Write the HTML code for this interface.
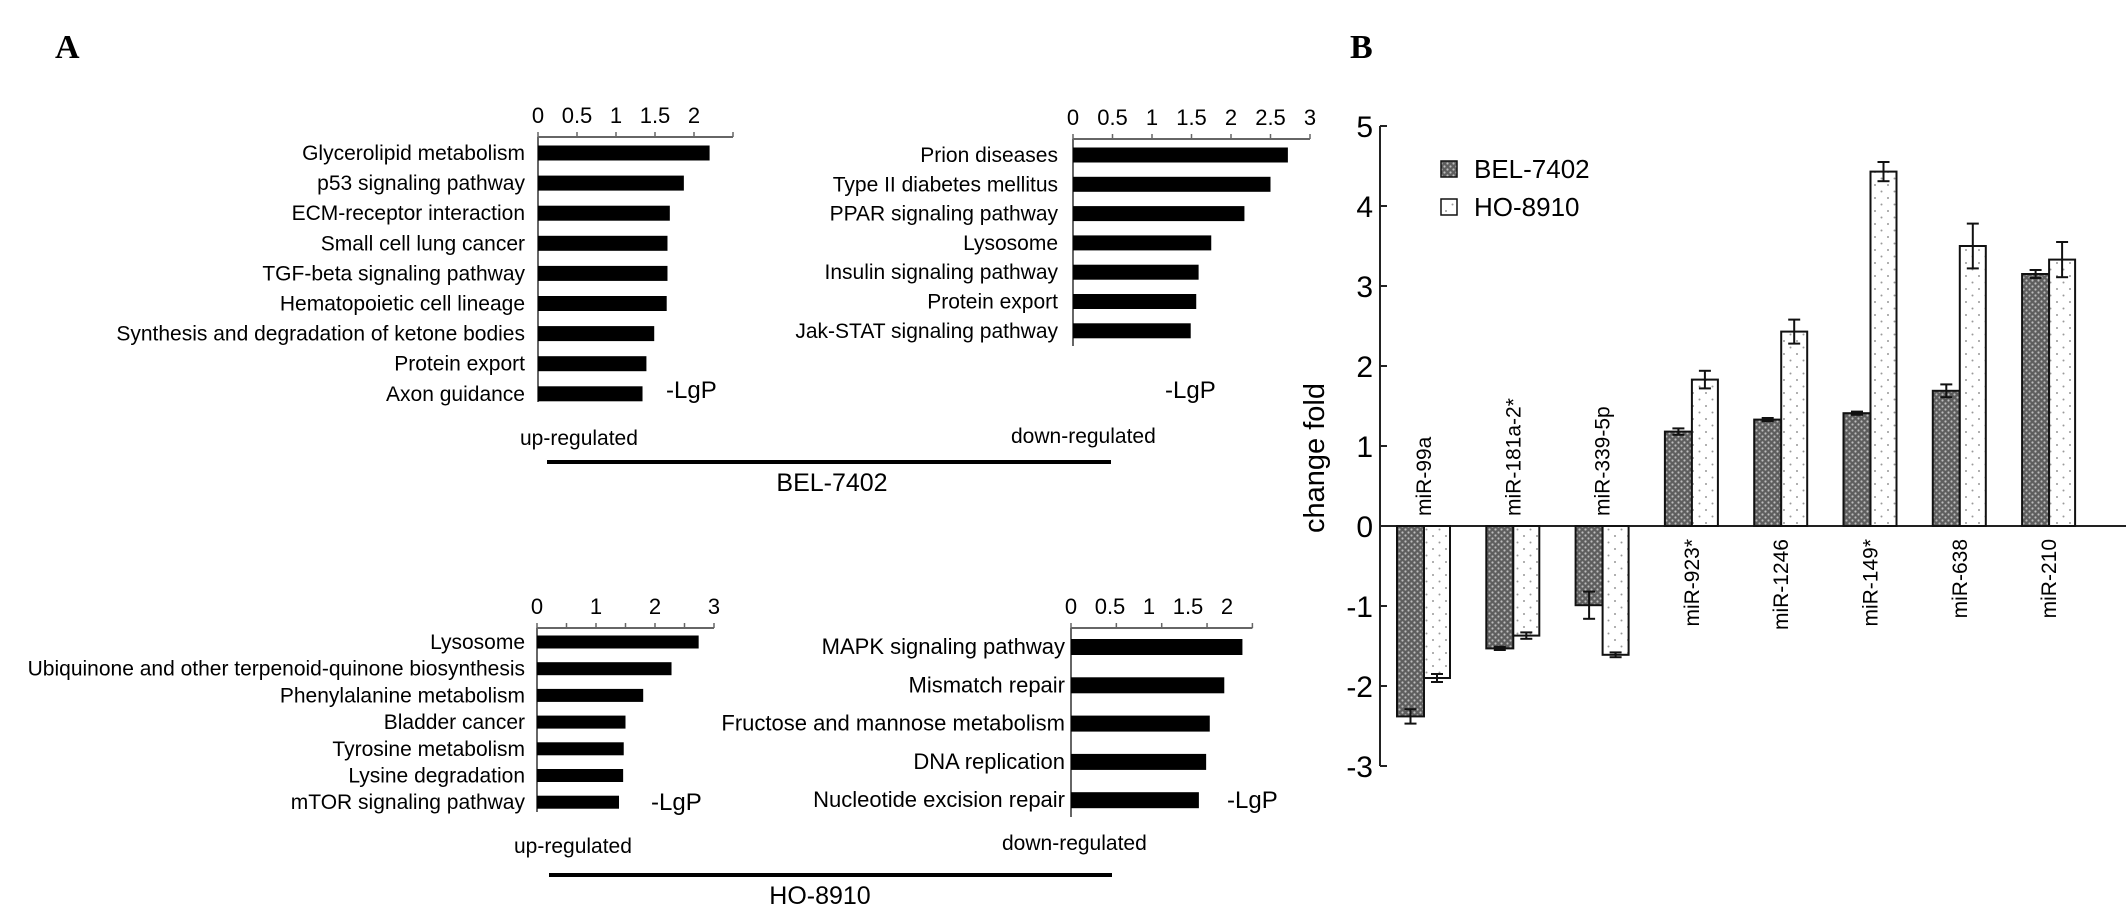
<!DOCTYPE html>
<html><head><meta charset="utf-8"><style>
html,body{margin:0;padding:0;background:#fff;}
svg{display:block;font-family:"Liberation Sans",Arial,sans-serif;}
</style></head><body>
<svg id="fig" width="2126" height="919" viewBox="0 0 2126 919" xmlns="http://www.w3.org/2000/svg">
<defs>
<pattern id="pBel" width="6" height="6" patternUnits="userSpaceOnUse">
<rect width="6" height="6" fill="#5e5e5e"/>
<circle cx="1.5" cy="1.5" r="1.1" fill="#bdbdbd"/>
<circle cx="4.5" cy="4.5" r="1.1" fill="#bdbdbd"/>
</pattern>
<pattern id="pHo" width="13" height="13" patternUnits="userSpaceOnUse">
<rect width="13" height="13" fill="#fff"/>
<circle cx="3" cy="3" r="1" fill="#999"/>
<circle cx="9.5" cy="9.5" r="1" fill="#999"/>
</pattern>
</defs>
<text x="55" y="58" font-family="Liberation Serif,serif" font-weight="bold" font-size="34">A</text>
<text x="1350" y="58" font-family="Liberation Serif,serif" font-weight="bold" font-size="34">B</text>
</svg>
<script>
// ---- Panel A data ----
const tlCategories = ["Glycerolipid metabolism","p53 signaling pathway","ECM-receptor interaction","Small cell lung cancer","TGF-beta signaling pathway","Hematopoietic cell lineage","Synthesis and degradation of ketone bodies","Protein export","Axon guidance"];
const tlValues = [2.2,1.87,1.69,1.66,1.66,1.65,1.49,1.39,1.34];
const tlTicks = ["0","0.5","1","1.5","2"];
const trCategories = ["Prion diseases","Type II diabetes mellitus","PPAR signaling pathway","Lysosome","Insulin signaling pathway","Protein export","Jak-STAT signaling pathway"];
const trValues = [2.72,2.5,2.17,1.75,1.59,1.56,1.49];
const trTicks = ["0","0.5","1","1.5","2","2.5","3"];
const blCategories = ["Lysosome","Ubiquinone and other terpenoid-quinone biosynthesis","Phenylalanine metabolism","Bladder cancer","Tyrosine metabolism","Lysine degradation","mTOR signaling pathway"];
const blValues = [2.74,2.28,1.8,1.5,1.47,1.46,1.39];
const blTicks = ["0","1","2","3"];
const brCategories = ["MAPK signaling pathway","Mismatch repair","Fructose and mannose metabolism","DNA replication","Nucleotide excision repair"];
const brValues = [1.89,1.69,1.53,1.49,1.41];
const brTicks = ["0","0.5","1","1.5","2"];
// ---- Panel B data ----
const mirCategories = ["miR-99a","miR-181a-2*","miR-339-5p","miR-923*","miR-1246","miR-149*","miR-638","miR-210"];
const belValues = [-2.38,-1.53,-0.99,1.18,1.33,1.41,1.69,3.15];
const belErrors = [0.09,0.02,0.17,0.04,0.02,0.02,0.08,0.05];
const hoValues = [-1.9,-1.37,-1.61,1.83,2.43,4.43,3.5,3.33];
const hoErrors = [0.05,0.04,0.03,0.11,0.15,0.12,0.28,0.22];
const yTicks = [5,4,3,2,1,0,-1,-2,-3];

const NS="http://www.w3.org/2000/svg";
const svg=document.getElementById('fig');
function mk(tag,attrs,parent){const e=document.createElementNS(NS,tag);for(const k in attrs)e.setAttribute(k,attrs[k]);(parent||svg).appendChild(e);return e;}

function hpanel(o,cats,vals,ticks){
  const g=mk('g',{});
  
  
  const x=v=>o.ax+v*o.unit;
  const lx=v=>o.ax+v*(o.labelUnit||o.unit);
  mk('line',{x1:o.ax,y1:o.top,x2:x(o.max),y2:o.top,stroke:'#666','stroke-width':2},g);
  mk('line',{x1:o.ax,y1:o.top,x2:o.ax,y2:o.bottom,stroke:'#666','stroke-width':2},g);
  for(let t=0;t<=o.max+1e-9;t+=o.minor){const tk=mk('line',{x1:x(t),y1:o.top,x2:x(t),y2:o.top-5,stroke:'#666','stroke-width':1.5},g);}
  ticks.forEach(s=>{const t=mk('text',{x:lx(parseFloat(s)),y:o.top-14,'font-size':22,'text-anchor':'middle'},g);t.textContent=s;
    
    });
  cats.forEach((c,i)=>{const cy=o.c0+i*o.sp;
    const r=mk('rect',{x:o.ax,y:cy-o.h/2,width:x(vals[i])-o.ax,height:o.h,fill:'#000'},g);
    
    
    const t=mk('text',{x:o.lr,y:cy+7,'font-size':o.fs,'text-anchor':'end'},g);t.textContent=c;
    
    
  });
  const l=mk('text',{x:o.lgx,y:o.lgy+8,'font-size':24},g);l.textContent='-LgP';
  
  
}
hpanel({name:'bel-up-chart',ax:538,unit:78,max:2.5,minor:0.5,top:137,bottom:402,c0:153,sp:30.1,h:15,lr:525,fs:21,lgx:666,lgy:390},tlCategories,tlValues,tlTicks);
hpanel({name:'bel-down-chart',ax:1073,unit:79,max:3,minor:0.5,top:139,bottom:346,c0:155,sp:29.3,h:15,lr:1058,fs:21,lgx:1165,lgy:390},trCategories,trValues,trTicks);
hpanel({name:'ho-up-chart',ax:537,unit:59,max:3,minor:0.5,top:628,bottom:812,c0:642,sp:26.7,h:13,lr:525,fs:21,lgx:651,lgy:802},blCategories,blValues,blTicks);
hpanel({name:'ho-down-chart',ax:1071,unit:90.7,labelUnit:78,max:2,minor:0.5,top:628,bottom:817,c0:647,sp:38.3,h:16,lr:1065,fs:22,lgx:1227,lgy:800},brCategories,brValues,brTicks);

function txt(x,y,s,size,name,anchor){const t=mk('text',{x:x,y:y,'font-size':size,'text-anchor':anchor||'start'});t.textContent=s;
  
  return t;}
txt(520,445,'up-regulated',21,'up-regulated-label');
txt(1011,443,'down-regulated',21,'down-regulated-label');
txt(514,853,'up-regulated',21,'up-regulated-label');
txt(1002,850,'down-regulated',21,'down-regulated-label');
const l1=mk('rect',{x:547,y:460,width:564,height:4,fill:'#000'});


const l2=mk('rect',{x:549,y:873,width:563,height:4,fill:'#000'});


txt(832,491,'BEL-7402',25,'bel-7402-group-label','middle');
txt(820,904,'HO-8910',25,'ho-8910-group-label','middle');

// ---- Panel B chart ----
const AX=1380, Y0=526, U=80;
const y=v=>Y0-v*U;
const gx=i=>1397+i*89.3;
const gB=mk('g',{});


mk('line',{x1:AX,y1:y(5),x2:AX,y2:y(-3),stroke:'#222','stroke-width':2},gB);
mk('line',{x1:AX,y1:Y0,x2:2126,y2:Y0,stroke:'#222','stroke-width':2},gB);
yTicks.forEach(v=>{mk('line',{x1:AX,y1:y(v),x2:AX+7,y2:y(v),stroke:'#222','stroke-width':2},gB);
  const t=mk('text',{x:AX-7,y:y(v)+11,'font-size':30,'text-anchor':'end'},gB);t.textContent=String(v);
  
  });
const yt=mk('text',{x:0,y:0,'font-size':29,'text-anchor':'middle',transform:'translate(1324,458) rotate(-90)'},gB);yt.textContent='change fold';


function bar(x0,w,v,e,fill,name){
  const top=Math.min(y(v),Y0), h=Math.abs(y(v)-Y0);
  const r=mk('rect',{x:x0,y:top,width:w,height:h,fill:fill,stroke:'#111','stroke-width':2},gB);
  
  
  const cx=x0+w/2;
  mk('line',{x1:cx,y1:y(v-e),x2:cx,y2:y(v+e),stroke:'#111','stroke-width':2},gB);
  mk('line',{x1:cx-6,y1:y(v-e),x2:cx+6,y2:y(v-e),stroke:'#111','stroke-width':2},gB);
  mk('line',{x1:cx-6,y1:y(v+e),x2:cx+6,y2:y(v+e),stroke:'#111','stroke-width':2},gB);
}
mirCategories.forEach((c,i)=>{
  const x0=gx(i);
  bar(x0,27,belValues[i],belErrors[i],'url(#pBel)','bar-bel-7402');
  bar(x0+27,26,hoValues[i],hoErrors[i],'url(#pHo)','bar-ho-8910');
  const cx=x0+27+7;
  const neg=belValues[i]<0;
  const ly=neg?Y0-10:Y0+13;
  const t=mk('text',{x:0,y:0,'font-size':21,'text-anchor':neg?'start':'end',transform:`translate(${cx},${ly}) rotate(-90)`},gB);
  t.textContent=c;
  
  
});
// legend
const lg=mk('g',{});


const s1=mk('rect',{x:1441,y:161,width:16,height:16,fill:'url(#pBel)',stroke:'#111','stroke-width':1.5},lg);


const s2=mk('rect',{x:1441,y:199,width:16,height:16,fill:'url(#pHo)',stroke:'#111','stroke-width':1.5},lg);


const t1=mk('text',{x:1474,y:178,'font-size':26},lg);t1.textContent='BEL-7402';


const t2=mk('text',{x:1474,y:216,'font-size':26},lg);t2.textContent='HO-8910';


</script>
</body></html>
